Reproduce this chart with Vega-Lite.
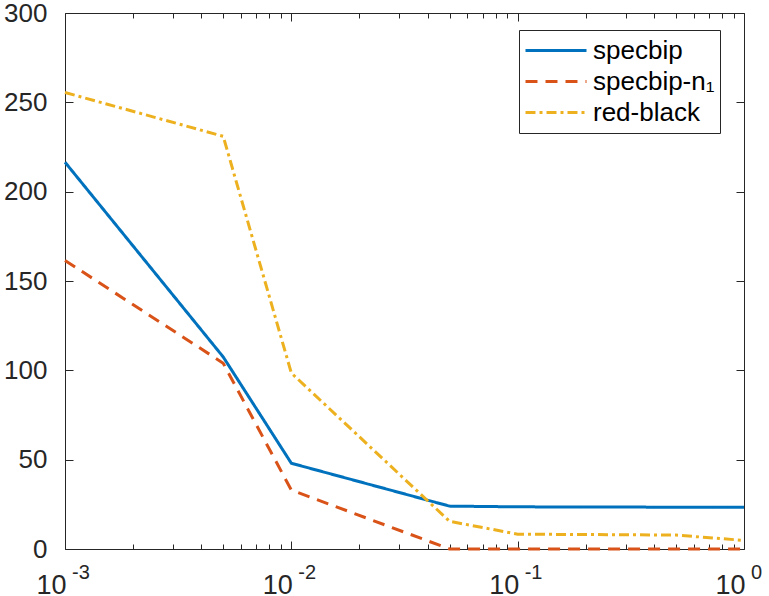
{
  "$schema": "https://vega.github.io/schema/vega-lite/v6.json",
  "autosize": "none",
  "width": 679,
  "height": 536,
  "padding": {"left": 65, "top": 13, "right": 25, "bottom": 47},
  "background": "white",
  "config": {
    "view": {"stroke": null},
    "font": "Liberation Sans",
    "axis": {"domainColor": "#262626", "tickColor": "#262626", "labelColor": "#262626", "labelFont": "Liberation Sans", "labelFontSize": 26, "grid": false, "title": null, "domainWidth": 1, "tickWidth": 1},
    "legend": {"orient": "none", "legendX": 454, "legendY": 17, "symbolType": "stroke", "symbolSize": 3721, "symbolStrokeWidth": 3, "labelFontSize": 26, "labelFont": "Liberation Sans", "labelColor": "#000000", "padding": 5, "rowPadding": 0, "clipHeight": 31, "labelOffset": 5, "strokeColor": "#262626", "fillColor": "white", "labelLimit": 400}
  },
  "layer": [
    {
      "data": {"values": [
        {"x": 0.001, "y": 216.5, "s": "specbip"},
        {"x": 0.005, "y": 107.5, "s": "specbip"},
        {"x": 0.01, "y": 48, "s": "specbip"},
        {"x": 0.05, "y": 24, "s": "specbip"},
        {"x": 0.1, "y": 23.6, "s": "specbip"},
        {"x": 0.5, "y": 23.4, "s": "specbip"},
        {"x": 1, "y": 23.3, "s": "specbip"},
        {"x": 0.001, "y": 161.5, "s": "specbip-n₁"},
        {"x": 0.005, "y": 104, "s": "specbip-n₁"},
        {"x": 0.01, "y": 33, "s": "specbip-n₁"},
        {"x": 0.05, "y": 0, "s": "specbip-n₁"},
        {"x": 0.1, "y": 0, "s": "specbip-n₁"},
        {"x": 0.5, "y": 0, "s": "specbip-n₁"},
        {"x": 1, "y": 0, "s": "specbip-n₁"},
        {"x": 0.001, "y": 255.5, "s": "red-black"},
        {"x": 0.005, "y": 231, "s": "red-black"},
        {"x": 0.01, "y": 98.5, "s": "red-black"},
        {"x": 0.05, "y": 15.5, "s": "red-black"},
        {"x": 0.1, "y": 8.3, "s": "red-black"},
        {"x": 0.5, "y": 7.8, "s": "red-black"},
        {"x": 1, "y": 4.8, "s": "red-black"}
      ]},
      "mark": {"type": "line", "strokeWidth": 3},
      "encoding": {
        "x": {"field": "x", "type": "quantitative",
          "scale": {"type": "log", "domain": [0.001, 1], "nice": false},
          "axis": {"orient": "bottom", "values": [0.001,0.002,0.003,0.004,0.005,0.006,0.007,0.008,0.009,0.01,0.02,0.03,0.04,0.05,0.06,0.07,0.08,0.09,0.1,0.2,0.3,0.4,0.5,0.6,0.7,0.8,0.9,1],
            "tickSize": {"condition": {"test": "abs(log(datum.value)/LN10 - round(log(datum.value)/LN10)) < 0.01", "value": -8}, "value": -5},
            "labelExpr": "abs(log(datum.value)/LN10 - round(log(datum.value)/LN10)) < 0.01 ? '10' : ''",
            "labelFontSize": 27, "labelPadding": 31, "labelOffset": -14, "labelOverlap": false, "labelFlush": false}},
        "y": {"field": "y", "type": "quantitative",
          "scale": {"domain": [0, 300], "nice": false},
          "axis": {"orient": "left", "values": [0,50,100,150,200,250,300], "tickSize": -8, "labelPadding": 26}},
        "color": {"field": "s", "type": "nominal", "sort": ["specbip", "specbip-n₁", "red-black"],
          "scale": {"domain": ["specbip", "specbip-n₁", "red-black"], "range": ["#0072BD", "#D95319", "#EDB120"]},
          "legend": {"title": null}},
        "strokeDash": {"field": "s", "type": "nominal", "sort": ["specbip", "specbip-n₁", "red-black"],
          "scale": {"domain": ["specbip", "specbip-n₁", "red-black"], "range": [[1, 0], [12, 8], [10, 4, 3, 4]]},
          "legend": {"title": null}}
      }
    },
    {
      "data": {"values": [
        {"x": 0.001, "y": 0},
        {"x": 1, "y": 300}
      ]},
      "mark": {"type": "point", "opacity": 0},
      "encoding": {
        "x": {"field": "x", "type": "quantitative",
          "axis": {"orient": "top", "labels": false, "values": [0.001,0.002,0.003,0.004,0.005,0.006,0.007,0.008,0.009,0.01,0.02,0.03,0.04,0.05,0.06,0.07,0.08,0.09,0.1,0.2,0.3,0.4,0.5,0.6,0.7,0.8,0.9,1],
            "tickSize": {"condition": {"test": "abs(log(datum.value)/LN10 - round(log(datum.value)/LN10)) < 0.01", "value": -8}, "value": -5}}},
        "y": {"field": "y", "type": "quantitative",
          "axis": {"orient": "right", "labels": false, "values": [0,50,100,150,200,250,300], "tickSize": -8}}
      }
    },
    {
      "data": {"values": [
        {"x": 0.001, "e": "-3"},
        {"x": 0.01, "e": "-2"},
        {"x": 0.1, "e": "-1"},
        {"x": 1, "e": "0"}
      ]},
      "mark": {"type": "text", "align": "left", "baseline": "alphabetic", "dx": 7, "dy": 30, "fontSize": 20, "font": "Liberation Sans", "color": "#262626", "clip": false},
      "encoding": {
        "x": {"field": "x", "type": "quantitative", "axis": null},
        "y": {"datum": 0, "type": "quantitative", "axis": null},
        "text": {"field": "e"}
      }
    }
  ],
  "resolve": {"axis": {"x": "independent", "y": "independent"}}
}
